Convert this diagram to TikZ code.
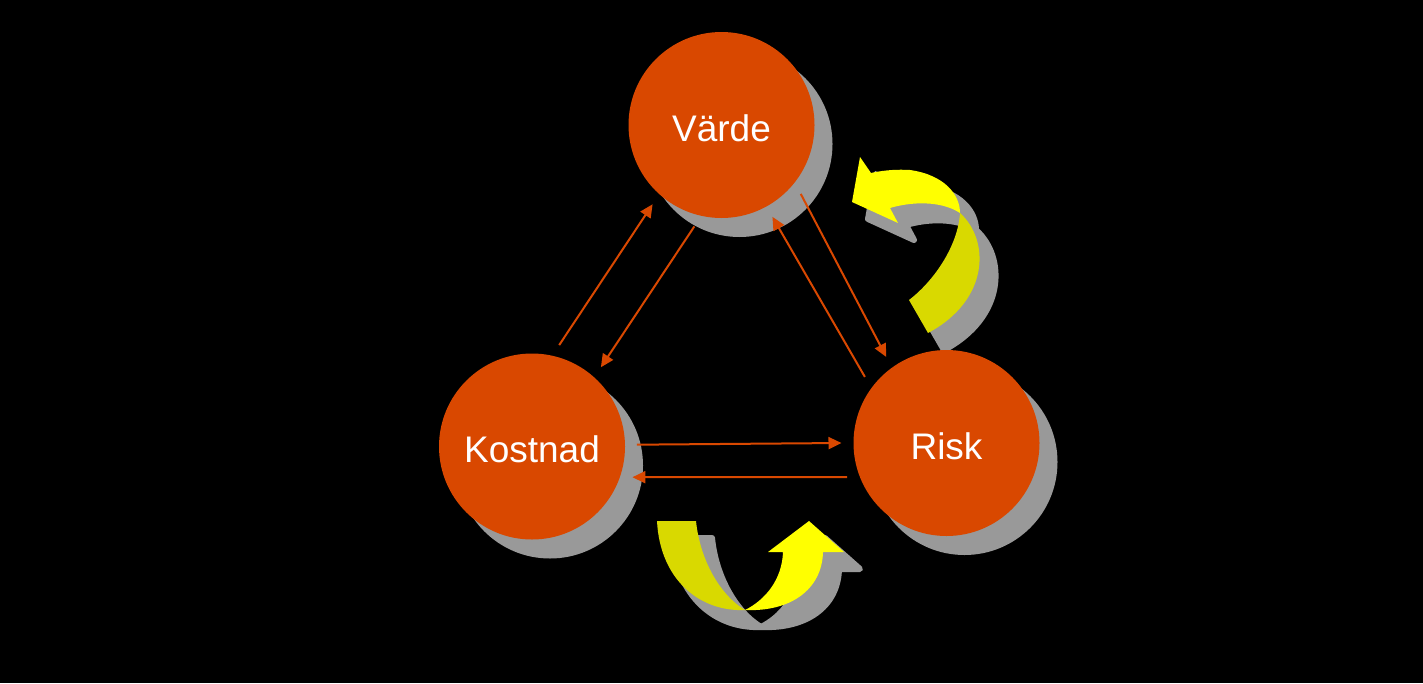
\documentclass[tikz,border=0pt]{standalone}
\usepackage{fontspec}
\setmainfont{Liberation Sans}
\usetikzlibrary{positioning,shadows,arrows.meta}

\definecolor{rust}{RGB}{217,72,0}
\definecolor{shade}{RGB}{153,153,153}
\definecolor{lemon}{RGB}{255,255,0}
\definecolor{mustard}{RGB}{217,217,0}

% the two yellow turning arrows
\newcommand{\risktail}{(909,300) .. controls (935,280) and (958,245) .. (960,213) .. controls (990,240) and (990,300) .. (928,333) -- cycle}
\newcommand{\riskhead}{(960,213) .. controls (960,195) and (945,175) .. (910,170) .. controls (893,169) and (880,171) .. (871,173) -- (860,157) -- (852,202) -- (898,223) -- (890,208) .. controls (910,202) and (940,200) .. (960,213) -- cycle}
\newcommand{\kosttail}{(657,521) -- (696,521) .. controls (700,560) and (720,595) .. (745,610) .. controls (700,612) and (660,580) .. (657,521) -- cycle}
\newcommand{\kosthead}{(745,610) .. controls (790,612) and (822,590) .. (823,552) -- (844,552) -- (809,521) -- (768,552) -- (783,552) .. controls (782,580) and (765,600) .. (745,610) -- cycle}

\begin{document}
\begin{tikzpicture}[x=1pt, y=-1pt, on grid, >={Triangle[length=13pt,width=12pt]},
  ball/.style={circle, fill=rust, minimum size=186pt, inner sep=0pt, outer sep=12pt,
    text=white, font=\fontsize{37}{44}\selectfont, text height=36pt, text depth=4pt,
    drop shadow={shadow xshift=18pt, shadow yshift=-19pt, fill=shade, opacity=1}},
  link/.style={->, rust, line width=2pt},
  cast/.style={fill=shade, draw=shade, line width=6pt, line join=round}]
\fill [black] (0,0) rectangle (1423,683);
% turning arrows with their shadows
\path [cast, shift={(16,17)}] \risktail \riskhead;
\fill [mustard] \risktail;
\fill [lemon] \riskhead;
\path [cast, shift={(16,17)}] \kosttail \kosthead;
\fill [mustard] \kosttail;
\fill [lemon] \kosthead;
% circles
\node [ball] (varde) at (721.5,125) {Värde};
\node [ball] (kostnad) [below left = 321.5pt and 189.5pt of varde] {Kostnad};
\node [ball] (risk) [below right = 318pt and 225pt of varde] {Risk};
\path [link]
(kostnad.75) edge (varde.229)
(varde.255) edge (kostnad.49)
(varde.319) edge (risk.125)
(risk.141) edge (varde.299)
(kostnad.1.4) edge (risk.180.5)
(risk.199) edge (kostnad.343);
\end{tikzpicture}
\end{document}
